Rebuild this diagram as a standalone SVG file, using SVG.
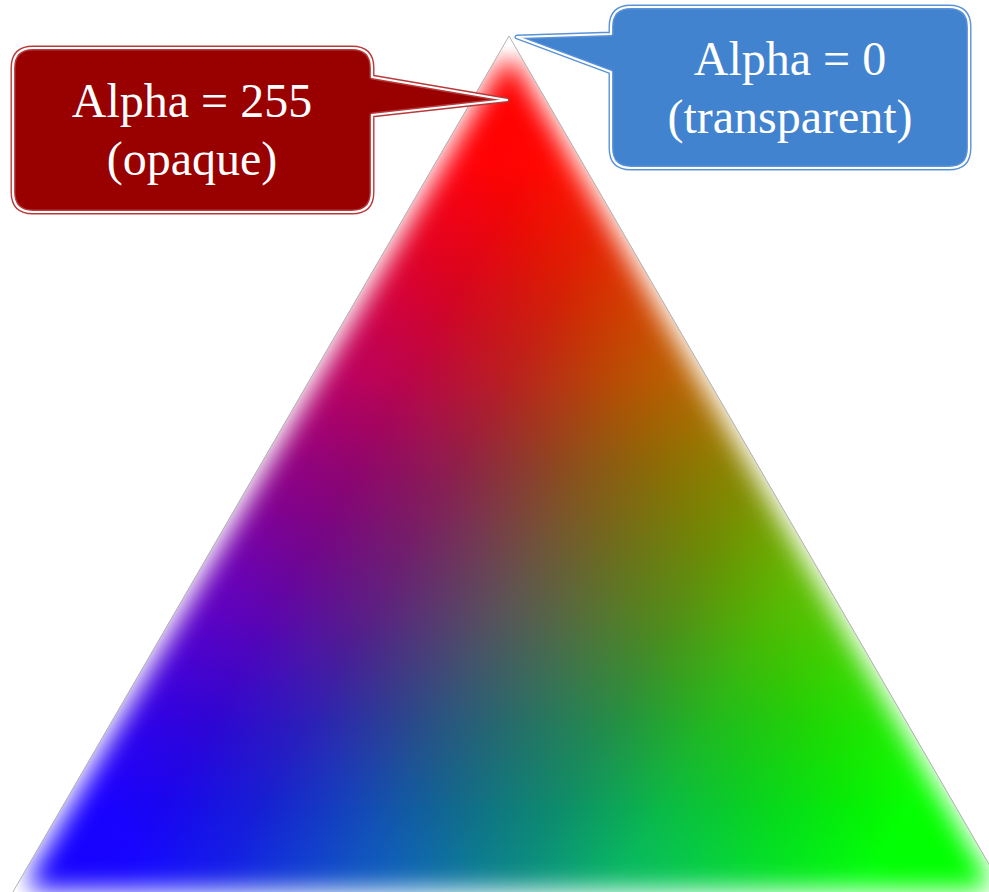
<svg xmlns="http://www.w3.org/2000/svg" width="989" height="892" viewBox="0 0 989 892">
  <defs>
    <style>
      .label { font-family: "Liberation Serif", "Times New Roman", serif; font-size: 48px; fill: #ffffff; text-anchor: middle; }
      .edge { fill: none; stroke: #b4b4b4; stroke-width: 1; }
    </style>
    <linearGradient id="gRed" gradientUnits="userSpaceOnUse" x1="509" y1="36" x2="509" y2="897">
      <stop offset="0" stop-color="rgb(255,0,0)"/>
      <stop offset="0.15" stop-color="rgb(255,0,0)"/>
      <stop offset="0.4" stop-color="rgb(184,0,0)"/>
      <stop offset="0.5" stop-color="rgb(140,0,0)"/>
      <stop offset="0.67" stop-color="rgb(84,0,0)"/>
      <stop offset="0.8" stop-color="rgb(31,0,0)"/>
      <stop offset="0.9" stop-color="rgb(5,0,0)"/>
      <stop offset="1" stop-color="rgb(0,0,0)"/>
    </linearGradient>
    <linearGradient id="gBlue" gradientUnits="userSpaceOnUse" x1="10" y1="897" x2="760" y2="464">
      <stop offset="0" stop-color="rgb(20,0,255)"/>
      <stop offset="0.15" stop-color="rgb(20,0,255)"/>
      <stop offset="0.4" stop-color="rgb(14,0,184)"/>
      <stop offset="0.5" stop-color="rgb(11,0,140)"/>
      <stop offset="0.67" stop-color="rgb(6,0,84)"/>
      <stop offset="0.8" stop-color="rgb(2,0,31)"/>
      <stop offset="0.9" stop-color="rgb(0,0,5)"/>
      <stop offset="1" stop-color="rgb(0,0,0)"/>
    </linearGradient>
    <linearGradient id="gGreen" gradientUnits="userSpaceOnUse" x1="1008" y1="897" x2="258" y2="464">
      <stop offset="0" stop-color="rgb(0,255,0)"/>
      <stop offset="0.15" stop-color="rgb(0,255,0)"/>
      <stop offset="0.4" stop-color="rgb(0,184,0)"/>
      <stop offset="0.5" stop-color="rgb(0,140,0)"/>
      <stop offset="0.67" stop-color="rgb(0,84,0)"/>
      <stop offset="0.8" stop-color="rgb(0,31,0)"/>
      <stop offset="0.9" stop-color="rgb(0,5,0)"/>
      <stop offset="1" stop-color="rgb(0,0,0)"/>
    </linearGradient>
    <filter id="blur" filterUnits="userSpaceOnUse" x="-100" y="-100" width="1200" height="1100">
      <feGaussianBlur stdDeviation="10"/>
    </filter>
    <mask id="fade" maskUnits="userSpaceOnUse" x="-100" y="-100" width="1200" height="1100">
      <polygon points="509,36 10,897 1008,897" fill="#ffffff" stroke="#000000" stroke-width="30" stroke-linejoin="miter" filter="url(#blur)"/>
    </mask>
  </defs>

  <g id="triangle">
    <g mask="url(#fade)">
      <g style="isolation:isolate">
        <polygon points="509,36 10,897 1008,897" fill="#000000"/>
        <polygon points="509,36 10,897 1008,897" fill="url(#gRed)" style="mix-blend-mode:screen"/>
        <polygon points="509,36 10,897 1008,897" fill="url(#gBlue)" style="mix-blend-mode:screen"/>
        <polygon points="509,36 10,897 1008,897" fill="url(#gGreen)" style="mix-blend-mode:screen"/>
      </g>
    </g>
    <polyline class="edge" points="10,897 509,36 1008,897"/>
  </g>

  <g id="callout-opaque">
    <path d="M 33,48 H 352 Q 372,48 372,68 V 77 L 507,100 L 372,115 V 192 Q 372,212 352,212 H 33 Q 13,212 13,192 V 68 Q 13,48 33,48 Z" fill="#990000" stroke="#b83a3a" stroke-width="5" stroke-linejoin="round"/>
    <path d="M 33,48 H 352 Q 372,48 372,68 V 77 L 507,100 L 372,115 V 192 Q 372,212 352,212 H 33 Q 13,212 13,192 V 68 Q 13,48 33,48 Z" fill="none" stroke="#ffffff" stroke-width="2.2" stroke-linejoin="round"/>
    <text class="label" x="192" y="117">Alpha = 255</text>
    <text class="label" x="192" y="175">(opaque)</text>
  </g>

  <g id="callout-transparent">
    <path d="M 631,7 H 949 Q 969,7 969,27 V 148 Q 969,168 949,168 H 631 Q 611,168 611,148 V 72 L 517,37 L 611,34 V 27 Q 611,7 631,7 Z" fill="#4283d0" stroke="#5a92d6" stroke-width="5" stroke-linejoin="round"/>
    <path d="M 631,7 H 949 Q 969,7 969,27 V 148 Q 969,168 949,168 H 631 Q 611,168 611,148 V 72 L 517,37 L 611,34 V 27 Q 611,7 631,7 Z" fill="none" stroke="#ffffff" stroke-width="2.2" stroke-linejoin="round"/>
    <text class="label" x="790" y="75">Alpha = 0</text>
    <text class="label" x="790" y="133">(transparent)</text>
  </g>
</svg>
